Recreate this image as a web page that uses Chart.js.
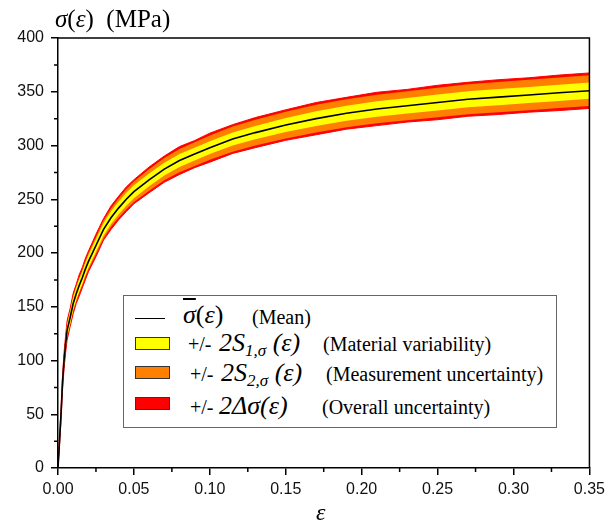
<!DOCTYPE html>
<html>
<head>
<meta charset="utf-8">
<script src="https://cdn.jsdelivr.net/npm/chart.js@4.4.0/dist/chart.umd.min.js"></script>
<style>
    body { margin: 0; background: #fff; }
    #wrap { position: relative; width: 610px; height: 524px; overflow: hidden; }
    #chart { position: absolute; left: 0; top: 0; }
    .txt { position: absolute; white-space: nowrap; line-height: 1; transform: translateY(-50%);
           font-family: "Liberation Serif", "Times New Roman", serif; color: #000; }
    .txt sub { font-size: 17px; vertical-align: -5px; line-height: 0; }
    #legendBox { position: absolute; left: 123px; top: 295px; width: 432px; height: 131px;
                 border: 1px solid #666; background: #fff; }
    .swatch { position: absolute; left: 135px; width: 33px; height: 11px; border: 1px solid #333; }
    .lineSample { position: absolute; left: 135px; top: 318px; width: 30px; border-top: 1.6px solid #000; }
</style>
</head>
<body>
<div id="wrap">
    <canvas id="chart" width="610" height="524"></canvas>
</div>
<script>
// Strain values (x) and mean stress (MPa)
const strain = [0, 0.001, 0.002, 0.003, 0.004, 0.005, 0.006, 0.008, 0.010, 0.012, 0.014, 0.016, 0.018, 0.020,
    0.025, 0.030, 0.035, 0.040, 0.045, 0.050, 0.060, 0.070, 0.080, 0.090, 0.100, 0.115, 0.130, 0.150,
    0.170, 0.190, 0.210, 0.230, 0.250, 0.270, 0.290, 0.310, 0.330, 0.350];
const meanStress = [0, 25, 50, 80, 100, 115, 128, 140, 153, 162, 170, 177, 185, 192,
    207, 222, 233, 242, 250, 257, 268, 278, 286, 292, 298, 306, 312, 319,
    325, 330, 334, 337, 340, 343, 345, 347, 349, 351];

// Half widths of the bands (MPa)
const materialHalf = [0, 2, 3, 4, 5, 5, 5.5, 6, 6, 6, 6, 6, 6, 6,
    6, 6, 6, 6, 6, 6, 6, 6, 6, 6, 6, 6, 6.2, 6.5,
    6.8, 7, 7.2, 7.3, 7.4, 7.5, 7.5, 7.5, 7.5, 7.5];
const measurementHalf = [0, 2.5, 3.5, 4.5, 5.5, 6, 6.5, 7, 7, 7, 7, 7.2, 7.4, 7.6,
    8, 8.3, 8.6, 9, 9.3, 9.6, 10, 10.4, 10.8, 11, 11.3, 11.7, 12, 12.4,
    12.8, 13, 13.3, 13.5, 13.7, 13.9, 14, 14.1, 14.2, 14.3];
const overallHalf = [0.5, 4, 5.5, 6.5, 7.5, 8, 9, 8.5, 9.5, 9, 10, 9.5, 10, 9.6,
    10.5, 10, 11, 11, 11.5, 11.2, 12, 12.2, 13, 12.6, 13.5, 13.4, 14, 14.2,
    15, 14.8, 15.5, 15.2, 16, 15.8, 16.2, 16, 16.5, 16.5];

const xTicks = [0, 0.05, 0.10, 0.15, 0.20, 0.25, 0.30, 0.35];
const yTicks = [0, 50, 100, 150, 200, 250, 300, 350, 400];

const pts = (half, sign) => strain.map((e, i) => ({ x: e, y: meanStress[i] + sign * half[i] }));

function band(half, color, upper) {
    return {
        data: pts(half, upper ? 1 : -1),
        borderColor: color,
        borderWidth: color === '#FF0000' ? 1 : 0,
        backgroundColor: color,
        fill: upper ? '+1' : false,
        pointRadius: 0,
        tension: 0
    };
}

// minor ticks plus top / right frame
const framePlugin = {
    id: 'frame',
    afterDraw(chart) {
        const ctx = chart.ctx;
        const a = chart.chartArea;
        const xs = chart.scales.x, ys = chart.scales.y;
        ctx.save();
        ctx.strokeStyle = '#000';
        ctx.lineWidth = 1.5;
        ctx.beginPath();
        ctx.moveTo(a.left, a.top);
        ctx.lineTo(a.right, a.top);
        ctx.lineTo(a.right, a.bottom);
        for (let v = 25; v < 400; v += 50) {
            const y = ys.getPixelForValue(v);
            ctx.moveTo(a.left, y);
            ctx.lineTo(a.left - 4, y);
        }
        for (let v = 0.025; v < 0.35; v += 0.05) {
            const x = xs.getPixelForValue(v);
            ctx.moveTo(x, a.bottom);
            ctx.lineTo(x, a.bottom + 4);
        }
        ctx.stroke();
        ctx.restore();
    }
};

const tickFont = { family: '"Liberation Sans", Arial, sans-serif', size: 16 };

new Chart(document.getElementById('chart').getContext('2d'), {
    type: 'line',
    data: {
        datasets: [
            { data: strain.map((e, i) => ({ x: e, y: meanStress[i] })), borderColor: '#000', borderWidth: 1.6,
              pointRadius: 0, fill: false, tension: 0 },
            band(materialHalf, '#FFFF00', true),
            band(materialHalf, '#FFFF00', false),
            band(measurementHalf, '#FF8000', true),
            band(measurementHalf, '#FF8000', false),
            band(overallHalf, '#FF0000', true),
            band(overallHalf, '#FF0000', false)
        ]
    },
    options: {
        responsive: false,
        animation: false,
        devicePixelRatio: 1,
        layout: { padding: { top: 38, right: 18, left: 0, bottom: 0 } },
        plugins: { legend: { display: false }, tooltip: { enabled: false } },
        scales: {
            x: {
                type: 'linear', min: 0, max: 0.35,
                afterBuildTicks: s => { s.ticks = xTicks.map(v => ({ value: v })); },
                afterFit: s => { s.height = 56; },
                ticks: { color: '#111', font: tickFont, padding: 5, maxRotation: 0,
                         callback: v => v.toFixed(2) },
                grid: { drawOnChartArea: false, drawTicks: true, tickLength: 7, color: '#000', lineWidth: 1.5 },
                border: { display: true, color: '#000', width: 1.5 }
            },
            y: {
                min: 0, max: 400,
                afterBuildTicks: s => { s.ticks = yTicks.map(v => ({ value: v })); },
                afterFit: s => { s.width = 58; },
                ticks: { color: '#111', font: tickFont, padding: 7 },
                grid: { drawOnChartArea: false, drawTicks: true, tickLength: 7, color: '#000', lineWidth: 1.5 },
                border: { display: true, color: '#000', width: 1.5 }
            }
        }
    },
    plugins: [framePlugin]
});

// Text overlays: axis titles and legend
const wrap = document.getElementById('wrap');
function addText(html, x, y, size) {
    const el = document.createElement('div');
    el.className = 'txt';
    el.style.left = x + 'px';
    el.style.top = y + 'px';
    el.style.fontSize = size + 'px';
    el.innerHTML = html;
    wrap.appendChild(el);
    return el;
}
function addDiv(cls, css) {
    const el = document.createElement('div');
    if (cls) el.className = cls;
    if (cls === null) el.id = 'legendBox';
    Object.assign(el.style, css || {});
    wrap.appendChild(el);
    return el;
}

addText('<i>σ</i>(<i>ε</i>)&nbsp;&nbsp;(MPa)', 55, 18, 25);
addText('<i>ε</i>', 316, 512, 24);

addDiv(null);
addDiv('lineSample');
addDiv('swatch', { top: '337px', background: '#FFFF00' });
addDiv('swatch', { top: '366px', background: '#FF8000' });
addDiv('swatch', { top: '397px', background: '#FF0000' });

addText('<i><span style="text-decoration: overline">σ</span></i>(<i>ε</i>)', 183, 315, 26);
addText('(Mean)', 252, 317, 20);

addText('+/-', 188, 344, 20);
addText('<i>2S<sub>1,σ</sub> (ε)</i>', 219, 343, 26);
addText('(Material variability)', 323, 344, 20);

addText('+/-', 190, 374, 20);
addText('<i>2S<sub>2,σ</sub> (ε)</i>', 221, 373, 26);
addText('(Measurement uncertainty)', 326, 374, 20);

addText('+/-', 190, 407, 20);
addText('<i>2Δσ(ε)</i>', 219, 406, 26);
addText('(Overall uncertainty)', 322, 407, 20);
</script>
</body>
</html>
